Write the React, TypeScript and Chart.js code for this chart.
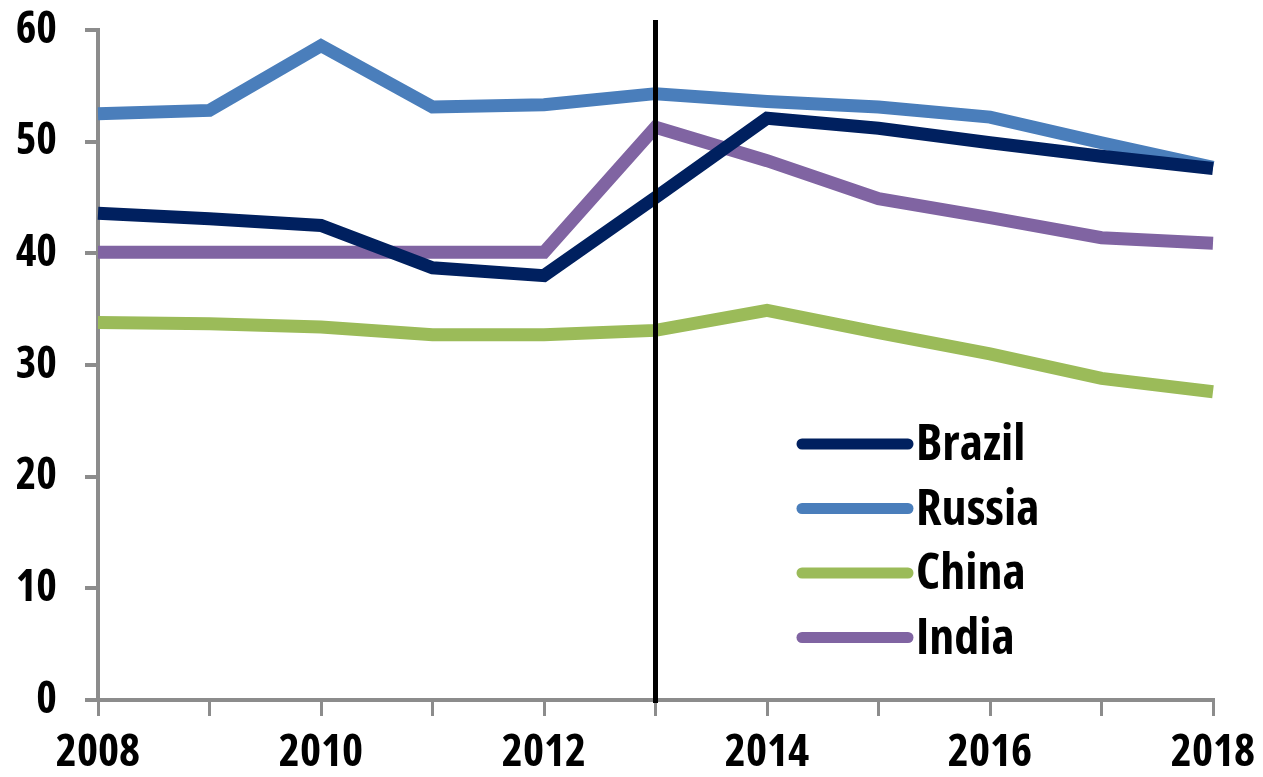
import React, { useEffect, useRef } from "react";
import { Chart, registerables } from "chart.js";

Chart.register(...registerables);

const years = ["2008", "2009", "2010", "2011", "2012", "2013", "2014", "2015", "2016", "2017", "2018"];

const brazil = [43.6, 43.1, 42.5, 38.7, 38.0, 45.0, 52.1, 51.2, 49.9, 48.7, 47.6];
const russia = [52.5, 52.8, 58.6, 53.1, 53.3, 54.3, 53.6, 53.1, 52.2, 49.9, 47.7];
const china = [33.8, 33.7, 33.4, 32.7, 32.7, 33.1, 34.9, 32.9, 31.0, 28.8, 27.6];
const india = [40.1, 40.1, 40.1, 40.1, 40.1, 51.3, 48.3, 44.9, 43.2, 41.4, 40.9];

const seriesNames = ["Brazil", "Russia", "China", "India"];
const seriesColors = ["#00205F", "#4A7EBB", "#9BBB59", "#8064A2"];

const markerYear = "2013";

const FONT_FAMILY = "'Open Sans', 'DejaVu Sans Condensed', sans-serif";
const FONT_WEIGHT = "bold condensed";

// Vertical black rule at the marker year, drawn above the series lines
const markerLinePlugin = {
  id: "markerLine",
  afterDatasetsDraw(chart: any) {
    const { ctx, chartArea, scales } = chart;
    const idx = years.indexOf(markerYear);
    const x = scales.x.getPixelForValue(idx);
    ctx.save();
    ctx.strokeStyle = "#000000";
    ctx.lineWidth = 5;
    ctx.beginPath();
    ctx.moveTo(x, chartArea.top - 10);
    ctx.lineTo(x, chartArea.bottom + 3);
    ctx.stroke();
    ctx.restore();
  },
};

// Legend placed inside the plot area, lower right
const insideLegendPlugin = {
  id: "insideLegend",
  afterDraw(chart: any) {
    const { ctx, chartArea } = chart;
    const x0 = chartArea.left + 704;
    const y0 = chartArea.top + 414;
    const rowGap = 64.5;
    const lineLen = 106;
    ctx.save();
    chart.data.datasets.forEach((ds: any, i: number) => {
      const y = y0 + i * rowGap;
      ctx.strokeStyle = ds.borderColor;
      ctx.lineWidth = 11;
      ctx.lineCap = "round";
      ctx.beginPath();
      ctx.moveTo(x0, y);
      ctx.lineTo(x0 + lineLen, y);
      ctx.stroke();
      ctx.fillStyle = "#000000";
      ctx.font = `${FONT_WEIGHT} 50px ${FONT_FAMILY}`;
      ctx.textBaseline = "middle";
      ctx.textAlign = "left";
      ctx.fillText(ds.label, x0 + lineLen + 8, y + 2);
    });
    ctx.restore();
  },
};

export default function App() {
  const canvasRef = useRef<HTMLCanvasElement | null>(null);

  useEffect(() => {
    if (!canvasRef.current) return;
    const values = [brazil, russia, china, india];
    const chart = new Chart(canvasRef.current, {
      type: "line",
      data: {
        labels: years,
        datasets: seriesNames.map((name, i) => ({
          label: name,
          data: values[i],
          borderColor: seriesColors[i],
          backgroundColor: seriesColors[i],
          borderWidth: 13,
          pointRadius: 0,
          tension: 0,
          fill: false,
        })),
      },
      options: {
        animation: false,
        responsive: false,
        maintainAspectRatio: false,
        layout: { padding: { top: 30, right: 50, left: 0, bottom: 0 } },
        plugins: {
          legend: { display: false },
          tooltip: { enabled: false },
        },
        scales: {
          x: {
            type: "category",
            offset: false,
            border: { display: true, color: "#8C8C8C", width: 4 },
            grid: {
              drawOnChartArea: false,
              drawTicks: true,
              tickLength: 16,
              color: "#8C8C8C",
              lineWidth: 3,
            },
            ticks: {
              autoSkip: false,
              maxRotation: 0,
              padding: 10,
              color: "#000000",
              font: { family: FONT_FAMILY, size: 45, weight: FONT_WEIGHT as any },
              callback(this: any, value: any) {
                const label = this.getLabelForValue(value);
                return Number(label) % 2 === 0 ? label : "";
              },
            },
            afterFit(scale: any) {
              scale.height = 77;
              scale.paddingLeft = 0;
              scale.paddingRight = 0;
            },
          },
          y: {
            min: 0,
            max: 60,
            border: { display: true, color: "#8C8C8C", width: 4 },
            grid: {
              drawOnChartArea: false,
              drawTicks: true,
              tickLength: 13,
              color: "#8C8C8C",
              lineWidth: 4,
            },
            ticks: {
              stepSize: 10,
              padding: 28,
              color: "#000000",
              font: { family: FONT_FAMILY, size: 44, weight: FONT_WEIGHT as any },
            },
            afterFit(scale: any) {
              scale.width = 98;
              scale.paddingTop = 0;
              scale.paddingBottom = 0;
            },
          },
        },
      },
      plugins: [markerLinePlugin, insideLegendPlugin],
    });
    return () => chart.destroy();
  }, []);

  return (
    <div style={{ position: "fixed", left: 0, top: 0, width: 1263, height: 777, background: "#ffffff" }}>
      <canvas ref={canvasRef} width={1263} height={777} style={{ width: 1263, height: 777, display: "block" }} />
    </div>
  );
}
